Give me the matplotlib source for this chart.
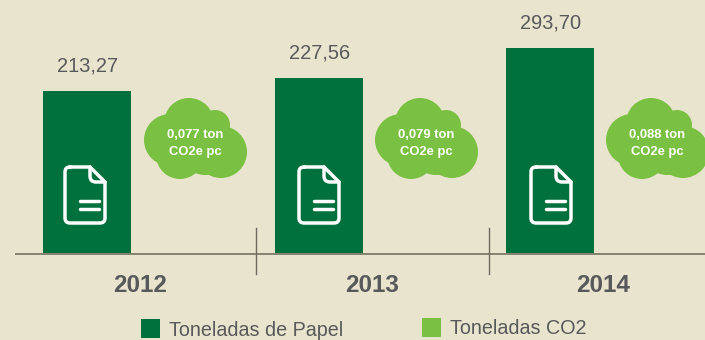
import matplotlib
matplotlib.use("Agg")
import matplotlib.pyplot as plt
from matplotlib.patches import Circle, PathPatch, Rectangle
from matplotlib.path import Path

plt.rcParams["font.family"] = ["Liberation Sans", "DejaVu Sans"]

BG = "#E9E4CE"
DARK = "#00703C"
LIGHT = "#7AC143"
TEXT = "#58595B"

years = ["2012", "2013", "2014"]
paper_labels = ["213,27", "227,56", "293,70"]
co2_labels = ["0,077 ton\nCO2e pc", "0,079 ton\nCO2e pc", "0,088 ton\nCO2e pc"]
# heights as drawn in the original, which are not proportional to the labels
bar_heights = [163, 176, 206]
legend_names = ["Toneladas de Papel", "Toneladas CO2"]

BASE = 254  # pixel row of the baseline


def _y(py):
    return BASE - py


def _cloud(ax, dx):
    blobs = [(170, 140, 26), (189, 123, 25), (215, 125, 15), (221, 152, 26),
             (180, 155, 24), (197, 140, 26), (205, 150, 25), (210, 135, 16)]
    for cx, cy, r in blobs:
        ax.add_patch(Circle((cx + dx, _y(cy)), r, fc=LIGHT, ec="none", zorder=3))


def _icon(ax, cx):
    l, r = cx - 20, cx + 20
    t, b = _y(167), _y(223)
    fold = 15
    c = 5
    verts = [(l + c, t), (r - fold, t), (r, t - fold), (r, b + c), (r, b), (r - c, b),
             (l + c, b), (l, b), (l, b + c), (l, t - c), (l, t), (l + c, t)]
    codes = [Path.MOVETO, Path.LINETO, Path.LINETO, Path.LINETO, Path.CURVE3, Path.CURVE3,
             Path.LINETO, Path.CURVE3, Path.CURVE3, Path.LINETO, Path.CURVE3, Path.CURVE3]
    style = dict(fc="none", ec="white", lw=2.5, zorder=4, capstyle="round", joinstyle="round")
    ax.add_patch(PathPatch(Path(verts, codes), **style))
    # folded corner
    fold_verts = [(r - fold, t), (r - fold, t - fold + 6), (r - fold, t - fold), (r - fold + 6, t - fold), (r, t - fold)]
    fold_codes = [Path.MOVETO, Path.LINETO, Path.CURVE3, Path.CURVE3, Path.LINETO]
    ax.add_patch(PathPatch(Path(fold_verts, fold_codes), **style))
    for py in (201, 209):
        ax.plot([cx - 5, cx + 14], [_y(py), _y(py)], color="white", lw=2.5,
                solid_capstyle="round", zorder=4)


def _main():
    fig = plt.figure(figsize=(7.05, 3.4), dpi=100, facecolor=BG)
    ax = fig.add_axes([0, 0, 1, 1])
    ax.set_xlim(0, 705)
    ax.set_ylim(_y(340), _y(0))
    ax.axis("off")

    bar_x = [87, 319, 550]
    ax.bar(bar_x, bar_heights, width=88, color=DARK, zorder=2)

    ax.plot([16, 705], [0, 0], color="#85826F", lw=1.4, zorder=3)
    for x in (256, 489):
        ax.plot([x, x], [_y(228), _y(274)], color="#6E6C60", lw=1.0, zorder=3)

    for i, year in enumerate(years):
        ax.text(bar_x[i] + 1, bar_heights[i] + 25, paper_labels[i], ha="center", va="center",
                fontsize=14.4, color=TEXT)
        ax.text([140, 372, 603][i], _y(285.5), year, ha="center", va="center",
                fontsize=17.5, fontweight="bold", color=TEXT)
        dx = [0, 231, 462][i]
        _cloud(ax, dx)
        ax.text(195 + dx, _y(143.5), co2_labels[i], ha="center", va="center", color="white",
                fontsize=9.4, fontweight="bold", linespacing=1.52, zorder=5)
        _icon(ax, [85, 319, 551][i])

    ax.add_patch(Rectangle((141, _y(338)), 19, 19, fc=DARK, ec="none"))
    ax.add_patch(Rectangle((422, _y(337)), 19, 19, fc=LIGHT, ec="none"))
    ax.text(169, _y(330.5), legend_names[0], ha="left", va="center", fontsize=14.2, color=TEXT)
    ax.text(450, _y(329), legend_names[1], ha="left", va="center", fontsize=14.2, color=TEXT)

    fig.savefig("out.png", dpi=100, facecolor=BG)
    plt.close(fig)


if __name__ == "__main__":
    _main()
